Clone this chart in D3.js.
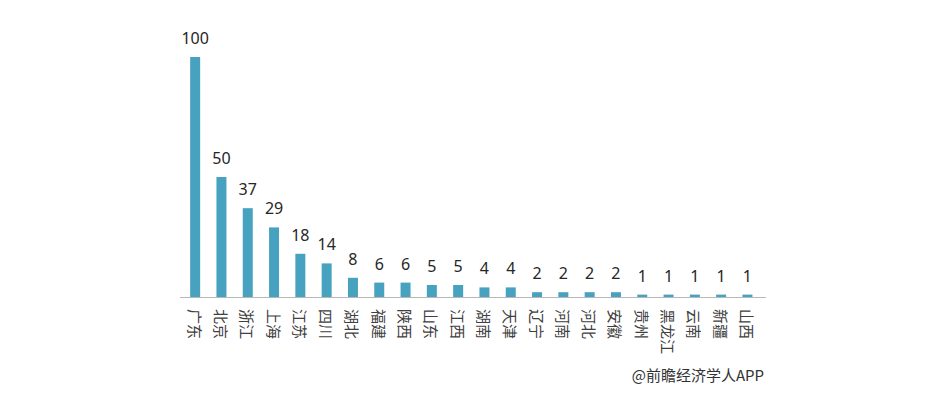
<!DOCTYPE html>
<html>
<head>
<meta charset="utf-8">
<script src="https://cdn.jsdelivr.net/npm/d3@7"></script>
<style>
  body { margin: 0; background: #fff; }
  svg { display: block; }
</style>
</head>
<body>
<div id="chart"></div>
<script>
const provinces = ['广东', '北京', '浙江', '上海', '江苏', '四川', '湖北', '福建', '陕西', '山东', '江西',
    '湖南', '天津', '辽宁', '河南', '河北', '安徽', '贵州', '黑龙江', '云南', '新疆', '山西']
const counts = [100, 50, 37, 29, 18, 14, 8, 6, 6, 5, 5, 4, 4, 2, 2, 2, 2, 1, 1, 1, 1, 1]
const source = '@前瞻经济学人APP'

const w = 935,
    h = 399,
    baseY = 297

const data = provinces.map((p, i) => ({ name: p, value: counts[i] }))

const svg = d3.select('#chart')
    .append('svg')
    .attr('width', w)
    .attr('height', h)

const x = d3.scaleBand()
    .domain(provinces)
    .range([182, 182 + 22 * 26.3])
    .paddingInner(0.62)
    .paddingOuter(0.31)

const y = d3.scaleLinear()
    .domain([0, 100])
    .range([baseY, 57])

// bars
svg.selectAll('rect.bar')
    .data(data)
    .enter()
    .append('rect')
    .attr('class', 'bar')
    .attr('x', d => x(d.name))
    .attr('y', d => y(d.value))
    .attr('width', x.bandwidth())
    .attr('height', d => baseY - y(d.value))
    .attr('fill', '#46a2bf')

// baseline
svg.append('line')
    .attr('x1', 180)
    .attr('x2', 766)
    .attr('y1', baseY + 0.5)
    .attr('y2', baseY + 0.5)
    .attr('stroke', '#b8b8b8')
    .attr('stroke-width', 1)

// value labels
svg.selectAll('text.val')
    .data(data)
    .enter()
    .append('text')
    .attr('class', 'val')
    .text(d => d.value)
    .attr('x', d => x(d.name) + x.bandwidth() / 2)
    .attr('y', d => y(d.value) - 13)
    .attr('text-anchor', 'middle')
    .attr('font-family', '"Noto Sans", sans-serif')
    .attr('font-size', 16)
    .attr('fill', '#262626')

// category labels (rotated)
svg.selectAll('text.cat')
    .data(data)
    .enter()
    .append('text')
    .attr('class', 'cat')
    .text(d => d.name)
    .attr('transform', d => `translate(${x(d.name) + x.bandwidth() / 2},309) rotate(90)`)
    .attr('dominant-baseline', 'central')
    .attr('font-family', '"Noto Sans CJK SC", sans-serif')
    .attr('font-size', 15)
    .attr('fill', '#404040')

svg.append('text')
    .text(source)
    .attr('x', 764)
    .attr('y', 381)
    .attr('text-anchor', 'end')
    .attr('font-family', '"Noto Sans CJK SC", sans-serif')
    .attr('font-size', 15)
    .attr('fill', '#333')
</script>
</body>
</html>
